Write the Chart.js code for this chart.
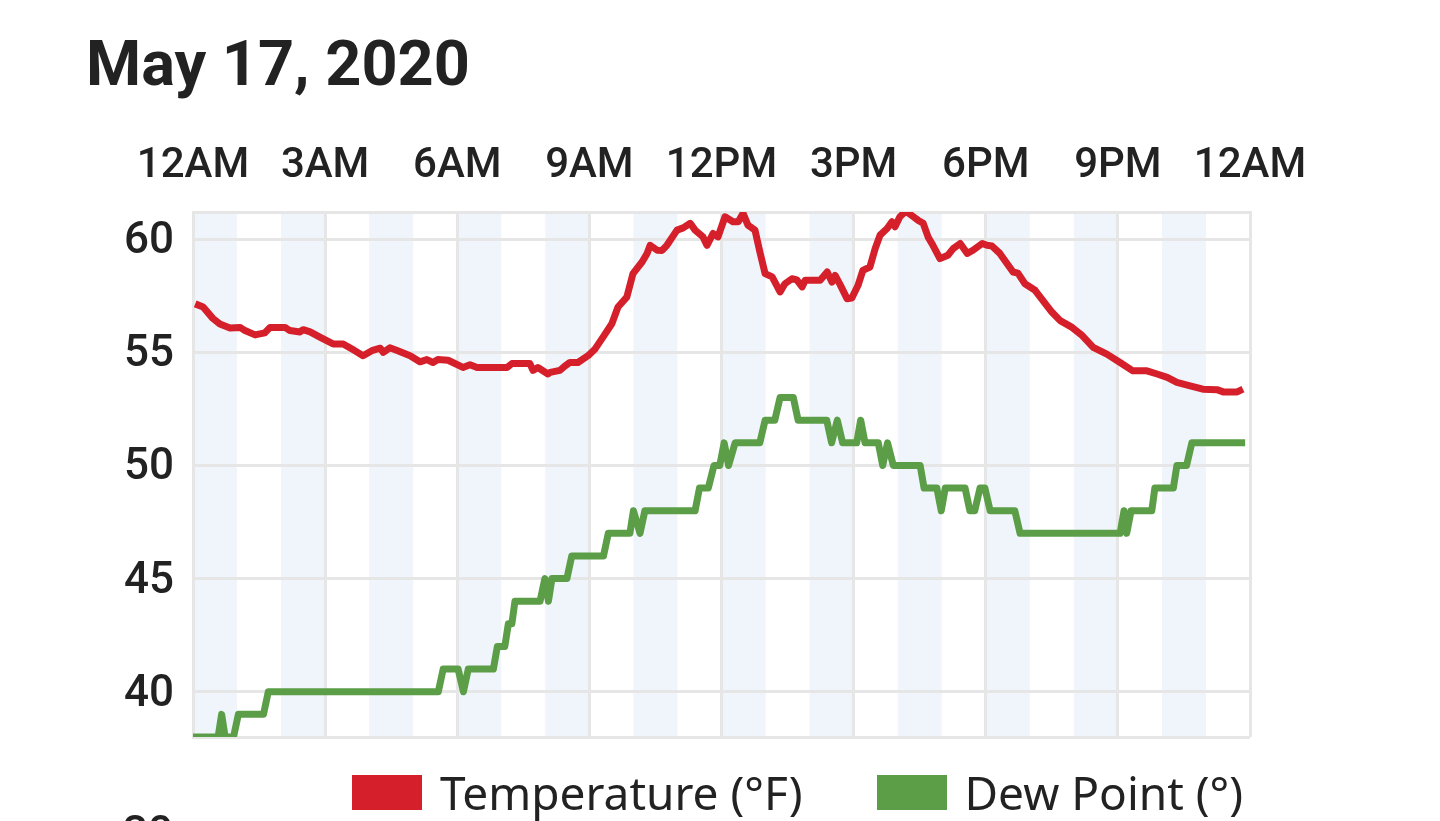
<!DOCTYPE html>
<html>
<head>
<meta charset="utf-8">
<title>May 17, 2020</title>
<script src="https://cdn.jsdelivr.net/npm/chart.js@4.4.1/dist/chart.umd.min.js"></script>
<style>
  html, body { margin: 0; padding: 0; background: #fff; overflow: hidden; }
  body { width: 1440px; height: 821px; position: relative; color: #222; }
  #title { position: absolute; left: 86px; top: 32px; margin: 0; font: 700 63px/1 Roboto, sans-serif; color: #222; }
  #chartBox { position: absolute; left: 0; top: 0; width: 1440px; height: 821px; }
  #legend { position: absolute; left: 352px; top: 765px; display: flex; align-items: center; font: 46px/55px "Noto Sans", sans-serif; color: #222; }
  .item { display: flex; align-items: center; margin-right: 74px; white-space: nowrap; }
  .swatch { width: 70px; height: 35px; margin-right: 18px; }
  #below { position: absolute; left: 123px; top: 810px; font: 500 44px/1 Roboto, sans-serif; color: #222; }
</style>
</head>
<body>
<h1 id="title">May 17, 2020</h1>
<div id="chartBox"><canvas id="weatherChart"></canvas></div>
<div id="legend"></div>
<div id="below">30</div>
<script>
    // axis labels and ranges
    const tickLabels = ['12AM', '3AM', '6AM', '9AM', '12PM', '3PM', '6PM', '9PM', '12AM'];
    const shadedHours = [0, 2, 4, 6, 8, 10, 12, 14, 16, 18, 20, 22];
    const yTicks = [40, 45, 50, 55, 60];
    const yMin = 38;
    const yMax = 61.2;

    // temperature, hours since midnight
    const tempHours = [0.05, 0.23, 0.45, 0.61, 0.84, 1.07, 1.18, 1.41, 1.63, 1.75, 2.09, 2.2, 2.43, 2.5, 2.66, 2.88,
        3.18, 3.41, 3.63, 3.86, 4.06, 4.25, 4.32, 4.47, 4.65, 4.93, 5.15, 5.31, 5.45, 5.56, 5.79, 5.9,
        6.13, 6.29, 6.45, 7.13, 7.24, 7.65, 7.72, 7.83, 8.06, 8.11, 8.33, 8.45, 8.56, 8.74, 8.97,
        9.13, 9.31, 9.51, 9.65, 9.85, 9.99, 10.2, 10.31, 10.38, 10.54, 10.65, 10.76, 10.99, 11.13, 11.29,
        11.4, 11.58, 11.67, 11.81, 11.92, 12.08, 12.26, 12.38, 12.49, 12.6, 12.76, 12.87, 12.99, 13.15,
        13.33, 13.44, 13.6, 13.71, 13.83, 13.9, 14.24, 14.4, 14.51, 14.58, 14.69, 14.85, 14.96, 15.1,
        15.21, 15.37, 15.49, 15.6, 15.76, 15.87, 15.94, 16.05, 16.17, 16.21, 16.35, 16.46, 16.58, 16.69,
        16.8, 16.96, 17.14, 17.26, 17.42, 17.58, 17.71, 17.92, 18.03, 18.14, 18.32, 18.62, 18.73, 18.89,
        19.12, 19.5, 19.69, 19.96, 20.19, 20.44, 20.75, 21.05, 21.34, 21.66, 21.89, 22.12, 22.34, 22.64,
        22.93, 23.25, 23.39, 23.71, 23.84];
    const tempValues = [57.14, 57.0, 56.5, 56.25, 56.07, 56.1, 55.96, 55.77, 55.86, 56.1, 56.1, 55.96, 55.9, 56.0, 55.9, 55.67,
        55.37, 55.37, 55.12, 54.85, 55.07, 55.18, 55.0, 55.2, 55.07, 54.85, 54.58, 54.68, 54.55, 54.68, 54.65, 54.55,
        54.33, 54.45, 54.33, 54.33, 54.5, 54.5, 54.2, 54.33, 54.04, 54.11, 54.2, 54.4, 54.55, 54.55, 54.85,
        55.15, 55.67, 56.26, 57.0, 57.44, 58.48, 59.0, 59.37, 59.73, 59.51, 59.5, 59.73, 60.4, 60.5, 60.7,
        60.4, 60.1, 59.73, 60.25, 60.1, 60.99, 60.77, 60.77, 61.14, 60.62, 60.4, 59.44, 58.48, 58.33,
        57.67, 58.03, 58.25, 58.2, 57.89, 58.18, 58.18, 58.55, 58.1, 58.4, 58.0, 57.37, 57.4, 57.96,
        58.62, 58.77, 59.59, 60.18, 60.47, 60.77, 60.55, 60.99, 61.2, 61.2, 61.0, 60.84, 60.7, 60.1,
        59.73, 59.14, 59.29, 59.58, 59.81, 59.37, 59.51, 59.81, 59.73, 59.7, 59.37, 58.55, 58.5, 58.03,
        57.74, 56.78, 56.4, 56.1, 55.74, 55.22, 54.92, 54.55, 54.18, 54.18, 54.04, 53.89, 53.67, 53.52,
        53.37, 53.35, 53.25, 53.25, 53.37];

    // dew point, hours since midnight
    const dewHours = [0, 0.57, 0.65, 0.73, 0.92, 1.03, 1.6, 1.71, 5.57, 5.68, 6.02, 6.14, 6.25, 6.82, 6.91, 7.08,
        7.16, 7.24, 7.31, 7.88, 7.99, 8.07, 8.15, 8.49, 8.6, 9.32, 9.43, 9.92, 10.0, 10.15, 10.26, 11.4,
        11.5, 11.7, 11.83, 11.96, 12.06, 12.16, 12.31, 12.87, 12.99, 13.21, 13.33, 13.63, 13.74, 14.39,
        14.5, 14.63, 14.75, 15.07, 15.16, 15.26, 15.56, 15.66, 15.77, 15.9, 16.51, 16.6, 16.89, 16.99,
        17.08, 17.53, 17.64, 17.75, 17.87, 17.98, 18.1, 18.66, 18.78, 21.05, 21.14, 21.2, 21.3, 21.77,
        21.84, 22.26, 22.34, 22.56, 22.68, 23.89];
    const dewValues = [38, 38, 39, 38, 38, 39, 39, 40, 40, 41, 41, 40, 41, 41, 42, 42,
        43, 43, 44, 44, 45, 44, 45, 45, 46, 46, 47, 47, 48, 47, 48, 48,
        49, 49, 50, 50, 51, 50, 51, 51, 52, 52, 53, 53, 52, 52,
        51, 52, 51, 51, 52, 51, 51, 50, 51, 50, 50, 49, 49, 48,
        49, 49, 48, 48, 49, 49, 48, 48, 47, 47, 48, 47, 48, 48,
        49, 49, 50, 50, 51, 51];

    const tempColor = '#d5202b';
    const dewColor = '#5b9e47';
    const gridColor = '#e6e6e6';
    const textColor = '#222222';

    // light stripes on every other hour, under the grid
    const hourBands = {
        id: 'hourBands',
        beforeDraw(chart) {
            const { ctx, chartArea, scales } = chart;
            ctx.save();
            ctx.fillStyle = '#eff5fa';
            shadedHours.forEach(function (h) {
                const x1 = scales.x.getPixelForValue(h);
                const x2 = scales.x.getPixelForValue(h + 1);
                ctx.fillRect(x1, chartArea.top, x2 - x1, chartArea.bottom - chartArea.top);
            });
            ctx.restore();
        }
    };

    const ctx = document.getElementById('weatherChart');
    const weatherChart = new Chart(ctx, {
        type: 'line',
        data: {
            datasets: [{
                label: 'Temperature (°F)',
                data: tempHours.map((h, i) => ({ x: h, y: tempValues[i] })),
                borderColor: tempColor,
                backgroundColor: tempColor,
                borderWidth: 7,
                borderJoinStyle: 'round',
                pointRadius: 0,
                tension: 0,
                fill: false
            }, {
                label: 'Dew Point (°)',
                data: dewHours.map((h, i) => ({ x: h, y: dewValues[i] })),
                borderColor: dewColor,
                backgroundColor: dewColor,
                borderWidth: 7,
                borderJoinStyle: 'round',
                pointRadius: 0,
                tension: 0,
                fill: false
            }]
        },
        options: {
            responsive: true,
            maintainAspectRatio: false,
            animation: false,
            events: [],
            layout: { padding: { top: 142, bottom: 84, left: 0, right: 0 } },
            plugins: {
                legend: { display: false },
                tooltip: { enabled: false }
            },
            scales: {
                x: {
                    type: 'linear',
                    position: 'top',
                    min: 0,
                    max: 24,
                    afterFit: function (scale) {
                        scale.height = 70;
                        scale.paddingRight = 190;
                    },
                    ticks: {
                        stepSize: 3,
                        autoSkip: false,
                        maxRotation: 0,
                        padding: 20,
                        color: textColor,
                        font: { family: 'Roboto', size: 42, weight: '500' },
                        callback: (value, index) => tickLabels[index]
                    },
                    grid: { color: gridColor, lineWidth: 3, drawTicks: false },
                    border: { color: gridColor, width: 3 }
                },
                y: {
                    min: yMin,
                    max: yMax,
                    afterFit: function (scale) {
                        scale.width = 193;
                    },
                    afterBuildTicks: function (scale) {
                        scale.ticks = [yMin].concat(yTicks, [yMax]).map(v => ({ value: v }));
                    },
                    ticks: {
                        autoSkip: false,
                        padding: 19,
                        labelOffset: 3,
                        color: textColor,
                        font: { family: 'Roboto', size: 44, weight: '500' },
                        callback: (value) => yTicks.includes(value) ? String(value) : ''
                    },
                    grid: { color: gridColor, lineWidth: 3, drawTicks: false },
                    border: { color: gridColor, width: 3 }
                }
            }
        },
        plugins: [hourBands]
    });

    // html legend from the datasets
    const legendBox = document.getElementById('legend');
    weatherChart.data.datasets.forEach(function (ds) {
        const item = document.createElement('div');
        item.className = 'item';
        const swatch = document.createElement('span');
        swatch.className = 'swatch';
        swatch.style.background = ds.borderColor;
        const label = document.createElement('span');
        label.textContent = ds.label;
        item.appendChild(swatch);
        item.appendChild(label);
        legendBox.appendChild(item);
    });
</script>
</body>
</html>
